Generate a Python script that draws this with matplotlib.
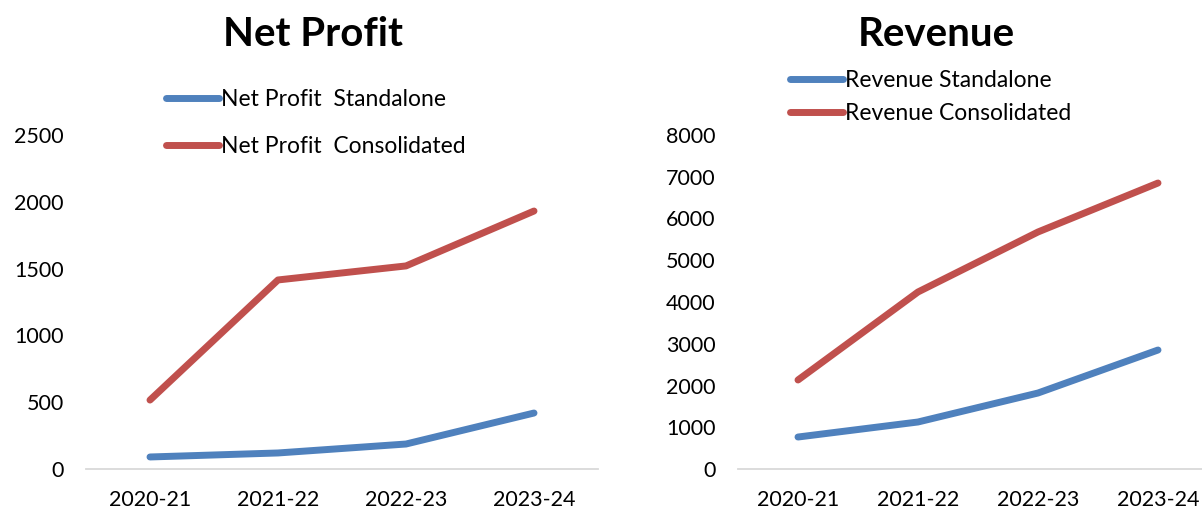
import numpy as np
import matplotlib
matplotlib.use("Agg")
import matplotlib.pyplot as plt

plt.rcParams['font.family'] = ['Lato', 'DejaVu Sans']

# data
years = ['2020-21', '2021-22', '2022-23', '2023-24']
np_standalone = [90, 120, 187, 419]
np_consolidated = [516, 1415, 1520, 1931]
rev_standalone = [766, 1126, 1820, 2850]
rev_consolidated = [2132, 4240, 5677, 6850]

blue = '#4F81BD'
red = '#C0504D'

W, H = 1202, 512
fig = plt.figure(figsize=(W / 100, H / 100), dpi=100)


def panel(x0, x1, ymax, step, title, title_x, s1, s2, lab1, lab2, leg_xy, spacing):
    ax = fig.add_axes([x0 / W, (H - 469) / H, (x1 - x0) / W, (469 - 135) / H])
    x = np.arange(len(years))
    ax.plot(x, s1, color=blue, lw=5, solid_capstyle='round', solid_joinstyle='round', label=lab1)
    ax.plot(x, s2, color=red, lw=5, solid_capstyle='round', solid_joinstyle='round', label=lab2)
    ax.set_xlim(-0.5, len(years) - 0.5)
    ax.set_ylim(0, ymax)
    ax.set_yticks(np.arange(0, ymax + 1, step))
    ax.set_xticks(x)
    ax.set_xticklabels(years)
    for s in ['top', 'right', 'left']:
        ax.spines[s].set_visible(False)
    ax.spines['bottom'].set_color('#D9D9D9')
    ax.spines['bottom'].set_linewidth(1.3)
    ax.tick_params(axis='both', length=0, labelsize=15.5, colors='black')
    ax.tick_params(axis='y', pad=16)
    ax.tick_params(axis='x', pad=15)
    fig.text(title_x / W, (H - 34) / H, title, fontsize=29, fontweight='bold',
             ha='center', va='center')
    ax.legend(loc='center left', bbox_to_anchor=(leg_xy[0] / W, (H - leg_xy[1]) / H),
              bbox_transform=fig.transFigure, frameon=False, fontsize=16.5,
              handlelength=2.3, handletextpad=0.1, borderpad=0, borderaxespad=0,
              labelspacing=spacing)
    return ax


ax1 = panel(86, 598, 2500, 500, 'Net Profit', 313, np_standalone, np_consolidated,
            'Net Profit  Standalone', 'Net Profit  Consolidated', (166, 123), 1.15)
ax2 = panel(738, 1218, 8000, 1000, 'Revenue', 936, rev_standalone, rev_consolidated,
            'Revenue Standalone', 'Revenue Consolidated', (790, 97), 0.55)

fig.savefig('out.png', dpi=100)
